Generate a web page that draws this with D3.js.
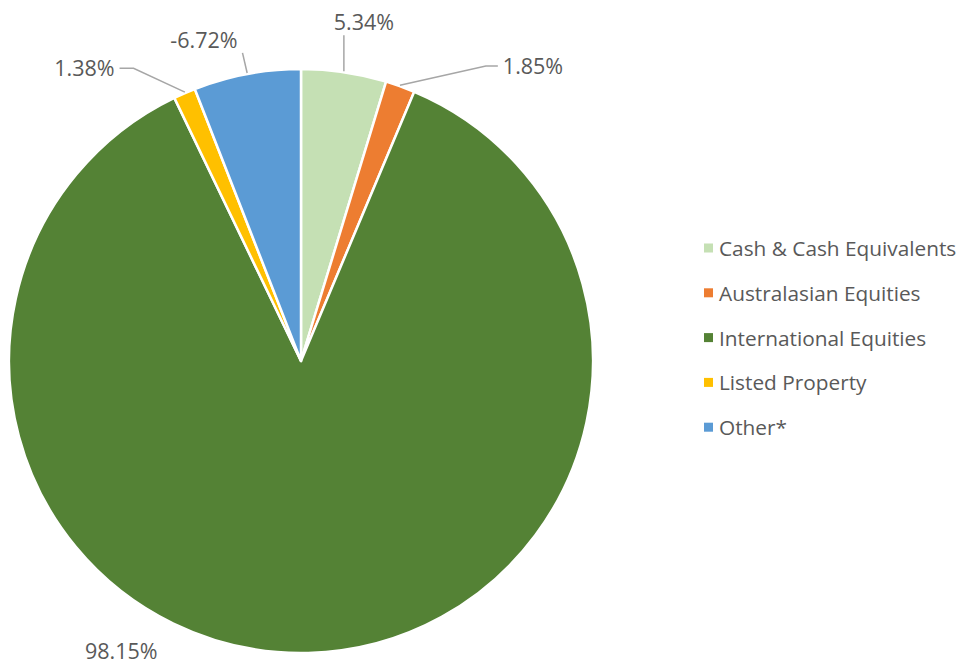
<!DOCTYPE html>
<html>
<head>
<meta charset="utf-8">
<script src="https://cdn.jsdelivr.net/npm/d3@7"></script>
<style>
  html, body { margin: 0; padding: 0; background: #ffffff; }
  svg { display: block; }
  text { font-family: "Open Sans", "Lato", sans-serif; fill: #595959; }
</style>
</head>
<body>
<svg id="chart" width="960" height="664"></svg>
<script>
// ---- data ----
const categories = ["Cash & Cash Equivalents", "Australasian Equities", "International Equities", "Listed Property", "Other*"];
const values = [5.34, 1.85, 98.15, 1.38, -6.72];
const colors = ["#C5E0B4", "#ED7D31", "#548235", "#FFC000", "#5B9BD5"];

// ---- layout (label placement, polar around pie centre: degrees clockwise from top, radius) ----
const labelAngle = [10.5, 38.1, 211.8, 323.6, 343.2];
const labelRadius = [345, 376, 341, 365, 336];
const labelLeader = [true, true, false, true, true];

const W = 960, H = 664;
const cx = 301, cy = 361, R = 292;
const svg = d3.select("#chart");

const rows = categories.map((c, i) => ({ name: c, value: values[i], color: colors[i], i }));

const pie = d3.pie().sort(null).value(d => Math.abs(d.value));
const arcs = pie(rows);
const arc = d3.arc().innerRadius(0).outerRadius(R);

const g = svg.append("g").attr("transform", `translate(${cx},${cy})`);

g.selectAll("path.slice")
  .data(arcs)
  .join("path")
  .attr("class", "slice")
  .attr("d", arc)
  .attr("fill", d => d.data.color)
  .attr("stroke", "#ffffff")
  .attr("stroke-width", 2.5)
  .attr("stroke-linejoin", "round");

const fmt = v => v.toFixed(2) + "%";
const polar = (deg, r) => {
  const a = deg * Math.PI / 180;
  return [r * Math.sin(a), -r * Math.cos(a)];
};

// labels
const labelG = g.append("g");
arcs.forEach((d, k) => {
  const [lx, ly] = polar(labelAngle[k], labelRadius[k]);
  const t = labelG.append("text")
    .attr("x", lx).attr("y", ly)
    .attr("text-anchor", "middle")
    .attr("dominant-baseline", "central")
    .style("font-size", "21.5px")
    .text(fmt(d.data.value));
  if (!labelLeader[k]) return;
  const bb = t.node().getBBox();
  const mid = (d.startAngle + d.endAngle) / 2;
  const ax = (R - 1) * Math.sin(mid), ay = -(R - 1) * Math.cos(mid);
  const pad = 5;
  const x0 = bb.x - pad, x1 = bb.x + bb.width + pad;
  const yTop = bb.y + 3, yBot = bb.y + bb.height - 1;
  const tcy = ly + 1;
  let pts;
  const dx = ax < x0 ? x0 - ax : (ax > x1 ? ax - x1 : 0);
  const dy = ay > yBot ? ay - yBot : (ay < yTop ? yTop - ay : 0);
  if (dx === 0) {
    pts = [[ax, ay - 2], [ax, yBot]];
  } else if (dx > dy) {
    const ex = ax > x1 ? x1 : x0;
    const elbow = ax > x1 ? ex + 14 : ex - 12;
    pts = [[ax, ay - 2], [elbow, tcy], [ex, tcy]];
  } else {
    const ex = ax > x1 ? x1 : x0;
    pts = [[ax, ay - 2], [ex, yBot]];
  }
  labelG.append("path")
    .attr("d", d3.line()(pts))
    .attr("fill", "none")
    .attr("stroke", "#A6A6A6")
    .attr("stroke-width", 1.5);
});

// legend
const legend = svg.append("g").attr("transform", "translate(704,248)");
const ly = d3.scaleBand().domain(categories).range([0, 44.8 * categories.length]).paddingInner(0);
const items = legend.selectAll("g.item")
  .data(rows)
  .join("g")
  .attr("class", "item")
  .attr("transform", d => `translate(0,${ly(d.name)})`);
items.append("rect")
  .attr("x", 0).attr("y", -4.5)
  .attr("width", 9).attr("height", 9)
  .attr("fill", d => d.color);
items.append("text")
  .attr("x", 15).attr("y", 0)
  .attr("dominant-baseline", "central")
  .style("font-size", "20.8px")
  .text(d => d.name);
</script>
</body>
</html>
